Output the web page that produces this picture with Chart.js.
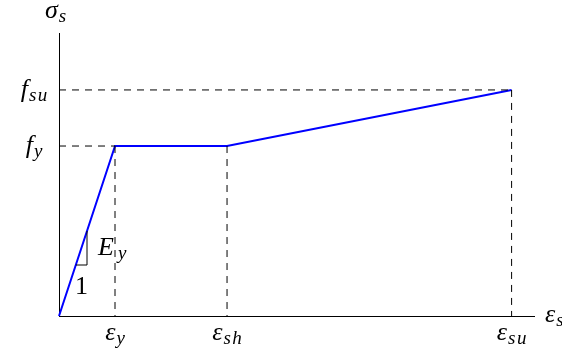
<!DOCTYPE html>
<html>
<head>
<meta charset="utf-8">
<script src="https://cdn.jsdelivr.net/npm/chart.js@4"></script>
<style>
  html, body { margin: 0; padding: 0; background: #ffffff; }
  canvas { display: block; }
</style>
</head>
<body>
<canvas id="c" width="562" height="349"></canvas>
<script>
// Idealised steel stress-strain law (strain normalised by eps_y, stress by f_y)
const strainPts = [0, 1, 3, 8.08];        // 0, eps_y, eps_sh, eps_su
const stressPts = [0, 1, 1, 1.33];        // 0, f_y,   f_y,    f_su

// axis extents
const strainMax = 8.48;
const stressMax = 1.665;

// tick labels (symbol + subscript)
const strainTickVals = [1, 3, 8.08];
const strainTickMain = ['\u03B5', '\u03B5', '\u03B5'];
const strainTickSub  = ['y', 'sh', 'su'];
const stressTickVals = [1, 1.33];
const stressTickMain = ['f', 'f'];
const stressTickSub  = ['y', 'su'];

// axis titles
const xTitle = ['\u03B5', 's'];
const yTitle = ['\u03C3', 's'];

// slope marker on the elastic branch (strain range)
const slopeFrom = 0.3;
const slopeTo = 0.5;
const slopeRun = '1';
const slopeRise = ['E', 'y'];

const fy = stressPts[1], epsY = strainPts[1];
const elastic = e => e * fy / epsY;

const curve = strainPts.map((e, i) => ({ x: e, y: stressPts[i] }));

// dashed projection lines from the key points onto the axes
const guides = [
  [{ x: 0, y: stressPts[1] }, { x: strainPts[1], y: stressPts[1] }],
  [{ x: strainPts[1], y: stressPts[1] }, { x: strainPts[1], y: 0 }],
  [{ x: strainPts[2], y: stressPts[2] }, { x: strainPts[2], y: 0 }],
  [{ x: 0, y: stressPts[3] }, { x: strainPts[3], y: stressPts[3] }],
  [{ x: strainPts[3], y: stressPts[3] }, { x: strainPts[3], y: 0 }]
];

const triangle = [
  { x: slopeFrom, y: elastic(slopeFrom) },
  { x: slopeTo, y: elastic(slopeFrom) },
  { x: slopeTo, y: elastic(slopeTo) }
];

const FAMILY = '"Liberation Serif"';
const MAIN = 'italic 26px ' + FAMILY;
const SUB = 'italic 19px ' + FAMILY;
const UPRIGHT = '26px ' + FAMILY;
const SUB_SHIFT = 4;
const SUB_GAP = 1.5;    // extra room between subscript letters

// width of a subscript drawn letter by letter
function subWidth(ctx, sub) {
  ctx.font = SUB;
  let w = 0;
  for (const ch of sub) w += ctx.measureText(ch).width + SUB_GAP;
  return w - SUB_GAP;
}

function measureSym(ctx, main, sub, gap = 1) {
  ctx.font = MAIN;
  const wm = ctx.measureText(main).width;
  const ws = sub ? subWidth(ctx, sub) : 0;
  return { wm, ws, w: wm + gap + ws };
}

function drawSym(ctx, main, sub, left, base, gap = 1) {
  const m = measureSym(ctx, main, sub, gap);
  ctx.textAlign = 'left';
  ctx.textBaseline = 'alphabetic';
  ctx.fillStyle = '#000';
  ctx.font = MAIN;
  ctx.fillText(main, left, base);
  if (sub) {
    ctx.font = SUB;
    let sx = left + m.wm + gap;
    for (const ch of sub) {
      ctx.fillText(ch, sx, base + SUB_SHIFT);
      sx += ctx.measureText(ch).width + SUB_GAP;
    }
  }
}

const mathLabels = {
  id: 'mathLabels',
  afterDraw(chart) {
    const { ctx, scales: { x, y } } = chart;
    const x0 = x.getPixelForValue(0);
    const y0 = y.getPixelForValue(0);
    ctx.save();
    // strain ticks, centred under each position
    strainTickVals.forEach((v, i) => {
      const px = x.getPixelForValue(v);
      const m = measureSym(ctx, strainTickMain[i], strainTickSub[i]);
      drawSym(ctx, strainTickMain[i], strainTickSub[i], px - m.w / 2, y0 + 24);
    });
    // stress ticks, centred left of the axis
    stressTickVals.forEach((v, i) => {
      const py = y.getPixelForValue(v);
      const m = measureSym(ctx, stressTickMain[i], stressTickSub[i]);
      drawSym(ctx, stressTickMain[i], stressTickSub[i], x0 - 25 - m.w / 2, py + 7);
    });
    // axis titles
    drawSym(ctx, yTitle[0], yTitle[1], x0 - 14, y.top - 15);
    drawSym(ctx, xTitle[0], xTitle[1], x.right + 11, y0 + 6);
    // slope marker text
    const tx0 = x.getPixelForValue(slopeFrom), tx1 = x.getPixelForValue(slopeTo);
    const ty0 = y.getPixelForValue(elastic(slopeFrom)), ty1 = y.getPixelForValue(elastic(slopeTo));
    ctx.font = UPRIGHT;
    ctx.textAlign = 'center';
    ctx.fillStyle = '#000';
    ctx.fillText(slopeRun, (tx0 + tx1) / 2, ty0 + 29);
    drawSym(ctx, slopeRise[0], slopeRise[1], tx1 + 11, (ty0 + ty1) / 2 + 7, 4);
    ctx.restore();
  }
};

const datasets = [];
guides.forEach(g => datasets.push({
  data: g,
  borderColor: '#000',
  borderWidth: 1,
  borderDash: [7, 6],
  pointRadius: 0,
  fill: false
}));
datasets.push({
  data: triangle,
  borderColor: '#000',
  borderWidth: 1,
  pointRadius: 0,
  fill: false
});
datasets.push({
  data: curve,
  borderColor: '#0000ff',
  borderWidth: 2,
  pointRadius: 0,
  fill: false,
  clip: false
});

new Chart(document.getElementById('c'), {
  type: 'line',
  data: { datasets },
  options: {
    responsive: false,
    animation: false,
    devicePixelRatio: 1,
    layout: { padding: { left: 59, right: 28, top: 33, bottom: 33 } },
    plugins: { legend: { display: false }, tooltip: { enabled: false }, title: { display: false } },
    elements: { line: { tension: 0, borderCapStyle: 'butt', borderJoinStyle: 'miter' } },
    scales: {
      x: {
        type: 'linear', min: 0, max: strainMax,
        grid: { display: false, drawTicks: false },
        border: { display: true, color: '#000', width: 1 },
        ticks: { display: false },
        afterFit: s => { s.height = 0; }
      },
      y: {
        type: 'linear', min: 0, max: stressMax,
        grid: { display: false, drawTicks: false },
        border: { display: true, color: '#000', width: 1 },
        ticks: { display: false },
        afterFit: s => { s.width = 0; }
      }
    }
  },
  plugins: [mathLabels]
});
</script>
</body>
</html>
